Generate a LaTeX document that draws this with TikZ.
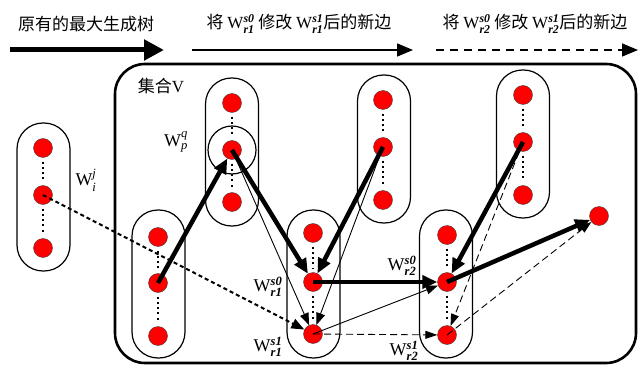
\documentclass[tikz,border=0pt]{standalone}
\usepackage{amsmath}
\usepackage{fontspec}
\setmainfont{Liberation Serif}
\newfontfamily\cjk{Noto Sans CJK SC}
\usetikzlibrary{arrows.meta}
% W with italic super- and subscript, always in the serif family
\newcommand\Wlab[2]{{\rmfamily W$^{\textit{\rmfamily\bfseries #1}}_{\textit{\rmfamily\bfseries #2}}$}}
\newcommand\Wlet[2]{{\rmfamily W$^{\textit{\rmfamily #1}}_{\textit{\rmfamily #2}}$}}
\begin{document}
\begin{tikzpicture}[x=1pt,y=-1pt,
  vtx/.style={circle, fill=red, draw=black!75, line width=0.4pt, minimum size=19pt, inner sep=0pt},
  capsule/.style={draw, line width=1.2pt, rounded corners=26pt, minimum width=53pt, minimum height=148pt, inner sep=0pt},
  vdots/.style={line width=2pt, dash pattern=on 2pt off 3.2pt, shorten >=4pt, shorten <=4pt},
  lab/.style={font=\fontsize{18}{19}\selectfont, inner sep=0pt},
  toplab/.style={font=\fontsize{17}{18}\selectfont\cjk, inner sep=0pt},
  heavy/.style={line width=4.5pt, -{Triangle[length=15pt,width=13pt]}},
  light/.style={line width=0.9pt, -{Triangle[length=12pt,width=9pt]}},
  dashlight/.style={line width=0.9pt, dash pattern=on 7pt off 4pt, -{Triangle[length=12pt,width=8pt]}},
  dotheavy/.style={line width=2pt, dash pattern=on 4pt off 3pt, -{Triangle[length=13pt,width=10pt]}}]
\useasboundingbox (0,0) rectangle (639,366);

% legend
\node[toplab] (t1) at (86,24) {原有的最大生成树};
\node[toplab] (t2) at (299,24) {将 \Wlab{s0}{r1} 修改 \Wlab{s1}{r1}后的新边};
\node[toplab] (t3) at (535,24) {将 \Wlab{s0}{r2} 修改 \Wlab{s1}{r2}后的新边};
\coordinate (a1s) at (10,50);  \coordinate (a1e) at (164,50);
\coordinate (a2s) at (192,50); \coordinate (a2e) at (413,50);
\coordinate (a3s) at (436,50); \coordinate (a3e) at (638,50);
\draw[line width=5pt, -{Triangle[length=20pt,width=20pt]}] (a1s) -- (a1e);
\draw[line width=1.5pt, -{Triangle[length=16pt,width=13pt]}] (a2s) -- (a2e);
\draw[line width=1.5pt, dash pattern=on 8pt off 6pt, -{Triangle[length=16pt,width=13pt]}] (a3s) -- (a3e);

% set V
\draw[line width=2.6pt, rounded corners=30pt] (115,64) rectangle (636,363);
\node[toplab] (setV) at (161,86) {集合\rmfamily V};

% vertex groups
\node[capsule] (c0) at (43.5,197) {};
\node[capsule] (c1) at (158.5,284) {};
\node[capsule] (c2) at (232,152) {};
\node[capsule] (c3) at (384,149) {};
\node[capsule] (c4) at (313.5,284) {};
\node[capsule] (c5) at (446,284) {};
\node[capsule] (c6) at (523,144) {};

\foreach \g/\x/\ya/\yb/\yc in {0/43/148/195/248, 1/158/237/283/336, 2/232/103/150/202,
    3/383/100/147/200, 4/313/233/282/334, 5/447/235/282/335, 6/523/95/142/195}{
  \node[vtx] (n\g a) at (\x,\ya) {};
  \node[vtx] (n\g b) at (\x,\yb) {};
  \node[vtx] (n\g c) at (\x,\yc) {};
  \draw[vdots] (n\g a) -- (n\g b);
  \draw[vdots] (n\g b) -- (n\g c);
}
\node[vtx] (iso) at (599,216) {};
\node[draw, circle, line width=1.2pt, minimum size=48pt] (ring) at (n2b) {};

% labels
\node[lab] (lij) at (86,180) {\Wlet{j}{i}};
\node[lab] (lpq) at (176,142) {\Wlet{q}{p}};
\node[lab] (lr1a) at (268,287) {\Wlab{s0}{r1}};
\node[lab] (lr1b) at (268,347) {\Wlab{s1}{r1}};
\node[lab] (lr2a) at (402,266) {\Wlab{s0}{r2}};
\node[lab] (lr2b) at (404,351) {\Wlab{s1}{r2}};

% original spanning tree
\draw[heavy] (n1b.center) -- (n2b);
\draw[heavy] (n2b.center) -- (n4b);
\draw[heavy] (n3b.center) -- (n4b);
\draw[heavy] (n4b.center) -- (n5b);
\draw[heavy] (n6b.center) -- (n5b);
\draw[heavy] (n5b.center) -- (iso);

% new edges after changing r1
\draw[light] (n2b.center) -- (n4c);
\draw[light] (n3b.center) -- (n4c);
\draw[light] (n4c.center) -- (n5b);
\draw[dotheavy] (n0b.center) -- (n4c);

% new edges after changing r2
\draw[dashlight] (n4c.center) -- (n5c);
\draw[dashlight] (n6b.center) -- (n5c);
\draw[dashlight] (n5c.center) -- (iso);
\end{tikzpicture}
\end{document}
